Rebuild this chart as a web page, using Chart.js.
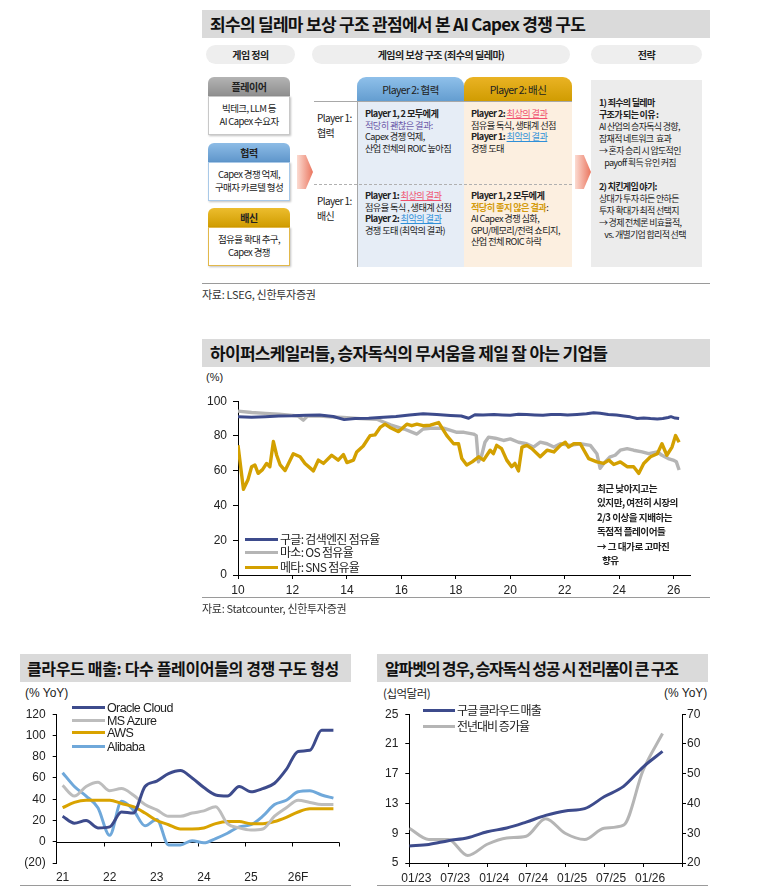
<!DOCTYPE html>
<html><head><meta charset="utf-8">
<script src="https://cdn.jsdelivr.net/npm/chart.js@4.4.1/dist/chart.umd.min.js"></script>
<style>
html,body{margin:0;padding:0;background:#fff;}
#page{position:relative;width:762px;height:888px;overflow:hidden;font-family:"Noto Sans CJK KR","Noto Sans",sans-serif;color:#222;}
.a{position:absolute;white-space:nowrap;}
.titlebar{position:absolute;background:#dadada;height:28px;}
.titlebar span{position:absolute;left:8px;top:0;line-height:28px;font-size:17px;font-weight:700;letter-spacing:-0.7px;color:#111;white-space:nowrap;}
.pill{position:absolute;height:19px;line-height:19px;background:#eeeeee;border-radius:10px;text-align:center;font-size:10px;font-weight:700;letter-spacing:-0.5px;color:#222;}
.box{position:absolute;width:82px;}
.box .hd{height:19px;line-height:19px;text-align:center;font-size:10px;font-weight:700;letter-spacing:-0.4px;border-radius:6px 6px 0 0;color:#222;}
.box .bd{background:#fff;text-align:center;font-size:9.5px;letter-spacing:-0.6px;line-height:13px;box-sizing:border-box;padding-top:5px;box-shadow:1px 1px 2px rgba(0,0,0,0.25);}
.cell{position:absolute;font-size:9.2px;letter-spacing:-0.6px;line-height:11.5px;color:#222;white-space:nowrap;}
.cell b{font-weight:700;}
.red{color:#f0506e;text-decoration:underline;}
.blu{color:#2f8fd8;text-decoration:underline;}
.src{position:absolute;font-size:11px;letter-spacing:-0.3px;color:#333;}
.sep{position:absolute;height:1px;background:#9a9a9a;}
.lg{position:absolute;font-size:12px;letter-spacing:-0.7px;color:#222;white-space:nowrap;line-height:13px;}
.lg i{display:inline-block;width:33px;height:3px;vertical-align:middle;margin-right:2px;position:relative;top:-1px;}
.lge{font-family:'Liberation Sans',Arial,sans-serif;font-size:12.5px;letter-spacing:-0.6px;}
canvas{position:absolute;}
</style></head>
<body><div id="page">

<!-- ===== Section 1: diagram ===== -->
<div class="titlebar" style="left:202px;top:10px;width:508px;"><span>죄수의 딜레마 보상 구조 관점에서 본 AI Capex 경쟁 구도</span></div>
<div class="pill" style="left:206px;top:45px;width:89px;">게임 정의</div>
<div class="pill" style="left:312px;top:45px;width:258px;">게임의 보상 구조 (죄수의 딜레마)</div>
<div class="pill" style="left:591px;top:45px;width:111px;">전략</div>

<div class="box" style="left:208px;top:77px;">
  <div class="hd" style="background:linear-gradient(#b4b4b4,#8e8e8e);">플레이어</div>
  <div class="bd" style="height:39px;border:1px solid #c8c8c8;">빅테크, LLM 등<br>AI Capex 수요자</div>
</div>
<div class="box" style="left:208px;top:143px;">
  <div class="hd" style="background:linear-gradient(#8dbce6,#5f96cb);">협력</div>
  <div class="bd" style="height:39px;border:1px solid #a9c9e8;">Capex 경쟁 억제,<br>구매자 카르텔 형성</div>
</div>
<div class="box" style="left:208px;top:208px;">
  <div class="hd" style="background:linear-gradient(#ecbd2e,#d09c00);">배신</div>
  <div class="bd" style="height:39px;border:1px solid #e2b84a;">점유율 확대 추구,<br>Capex 경쟁</div>
</div>

<div class="a" style="left:297px;top:155px;width:16px;height:34px;background:linear-gradient(90deg,#fbd7cc,#e8664d);clip-path:polygon(0 0,55% 0,100% 50%,55% 100%,0 100%,0 0);opacity:0.9;"></div>

<div class="a" style="left:357px;top:77px;width:107px;height:25px;border-radius:9px 9px 0 0;background:linear-gradient(#8fc0ea,#629ccf);text-align:center;line-height:25px;font-size:10.5px;letter-spacing:-0.6px;">Player 2: 협력</div>
<div class="a" style="left:464px;top:77px;width:108px;height:25px;border-radius:9px 9px 0 0;background:linear-gradient(#eab324,#cf9b00);text-align:center;line-height:25px;font-size:10.5px;letter-spacing:-0.6px;">Player 2: 배신</div>
<div class="a" style="left:357px;top:102px;width:107px;height:165px;background:#e6edf6;border-left:1px solid #a8a8a8;"></div>
<div class="a" style="left:464px;top:102px;width:108px;height:165px;background:#fcefe0;"></div>
<div class="a" style="left:314px;top:101px;width:258px;height:1px;background:#a8a8a8;"></div>
<div class="a" style="left:314px;top:184px;width:258px;height:0;border-top:1px dashed #b0b0b0;"></div>
<div class="cell" style="left:317px;top:110px;font-size:10px;line-height:15px;">Player 1:<br>협력</div>
<div class="cell" style="left:317px;top:193px;font-size:10px;line-height:15px;">Player 1:<br>배신</div>

<div class="cell" style="left:365px;top:108px;"><b>Player 1, 2 모두에게</b><br><span style="color:#6b58a8;">적당히 괜찮은 결과:</span><br>Capex 경쟁 억제,<br>산업 전체의 ROIC 높아짐</div>
<div class="cell" style="left:471px;top:108px;"><b>Player 2: </b><span class="red">최상의 결과</span><br>점유율 독식, 생태계 선점<br><b>Player 1: </b><span class="blu">최악의 결과</span><br>경쟁 도태</div>
<div class="cell" style="left:365px;top:190px;"><b>Player 1: </b><span class="red">최상의 결과</span><br>점유율 독식 , 생태계 선점<br><b>Player 2: </b><span class="blu">최악의 결과</span><br>경쟁 도태 (최악의 결과)</div>
<div class="cell" style="left:471px;top:190px;"><b>Player 1, 2 모두에게</b><br><span style="color:#d49c10;font-weight:700;">적당히 좋지 않은 결과</span>:<br>AI Capex 경쟁 심화,<br>GPU/메모리/전력 쇼티지,<br>산업 전체 ROIC 하락</div>

<div class="a" style="left:575px;top:155px;width:16px;height:34px;background:linear-gradient(90deg,#fbd7cc,#e8664d);clip-path:polygon(0 0,55% 0,100% 50%,55% 100%,0 100%,0 0);opacity:0.9;"></div>
<div class="a" style="left:591px;top:80px;width:111px;height:187px;background:#ececec;"></div>
<div class="cell" style="left:599px;top:97px;font-size:9px;line-height:12px;letter-spacing:-0.7px;"><b>1) 죄수의 딜레마<br>구조가 되는 이유 :</b><br>AI 산업의 승자독식 경향,<br>잠재적 네트워크&nbsp; 효과<br>→ 혼자 승리 시 압도적인<br>&nbsp;&nbsp;&nbsp;&nbsp;payoff 획득 유인 커짐<br><br><b>2) 치킨게임 야기:</b><br>상대가 투자 하든 안하든<br>투자 확대가 최적 선택지<br>→ 경제 전체론 비효율적,<br>&nbsp;&nbsp;&nbsp;&nbsp;vs. 개별기업 합리적 선택</div>

<div class="sep" style="left:202px;top:283px;width:508px;"></div>
<div class="src" style="left:202px;top:286px;">자료: LSEG, 신한투자증권</div>

<!-- ===== Section 2 ===== -->
<div class="titlebar" style="left:202px;top:339px;width:508px;"><span>하이퍼스케일러들, 승자독식의 무서움을 제일 잘 아는 기업들</span></div>
<div class="a" style="left:206px;top:371px;font-size:11px;font-family:'Liberation Sans',Arial,sans-serif;">(%)</div>
<canvas id="c1" width="500" height="209" style="left:196px;top:388px;"></canvas>
<div class="lg" style="left:245px;top:532px;"><i style="background:#3d4b8c"></i>구글: 검색엔진 점유율</div>
<div class="lg" style="left:245px;top:545px;"><i style="background:#b5b5b5"></i>마소: OS 점유율</div>
<div class="lg" style="left:245px;top:560px;"><i style="background:#d3a000"></i>메타: SNS 점유율</div>
<div class="a" style="left:597px;top:481px;font-size:9.6px;font-weight:700;letter-spacing:-0.5px;line-height:14.4px;color:#222;">최근 낮아지고는<br>있지만, 여전히 시장의<br>2/3 이상을 지배하는<br>독점적 플레이어들<br>→ 그 대가로 고마진<br>&nbsp;&nbsp;&nbsp;향유</div>
<div class="sep" style="left:202px;top:597px;width:508px;"></div>
<div class="src" style="left:202px;top:600px;">자료: Statcounter, 신한투자증권</div>

<!-- ===== Section 3 left ===== -->
<div class="titlebar" style="left:20px;top:654px;width:331px;"><span style="left:7px;font-size:16px;letter-spacing:-0.35px;">클라우드 매출: 다수 플레이어들의 경쟁 구도 형성</span></div>
<div class="a" style="left:25px;top:686px;font-size:12px;font-family:'Liberation Sans',Arial,sans-serif;">(% YoY)</div>
<canvas id="c2" width="340" height="187" style="left:10px;top:700px;"></canvas>
<div class="lg lge" style="left:72px;top:702px;"><i style="background:#3d4b8c"></i>Oracle Cloud</div>
<div class="lg lge" style="left:72px;top:715px;"><i style="background:#bdbdbd"></i>MS Azure</div>
<div class="lg lge" style="left:72px;top:727px;"><i style="background:#d9a300"></i>AWS</div>
<div class="lg lge" style="left:72px;top:741px;"><i style="background:#6fa8da"></i>Alibaba</div>
<div class="sep" style="left:20px;top:885px;width:331px;"></div>

<!-- ===== Section 3 right ===== -->
<div class="titlebar" style="left:377px;top:654px;width:331px;"><span style="left:8px;font-size:16px;letter-spacing:-1.15px;">알파벳의 경우, 승자독식 성공 시 전리품이 큰 구조</span></div>
<div class="a" style="left:383px;top:685px;font-size:11.5px;letter-spacing:-0.5px;">(십억달러)</div>
<div class="a" style="left:664px;top:686px;font-size:12px;font-family:'Liberation Sans',Arial,sans-serif;">(% YoY)</div>
<canvas id="c3" width="342" height="187" style="left:370px;top:700px;"></canvas>
<div class="lg" style="left:423px;top:703px;letter-spacing:-1px;"><i style="background:#3d4b8c;width:32px;"></i>구글 클라우드 매출</div>
<div class="lg" style="left:423px;top:719px;letter-spacing:-1px;"><i style="background:#b5b5b5;width:32px;"></i>전년대비 증가율</div>
<div class="sep" style="left:377px;top:885px;width:331px;"></div>

</div>
<script>
// ---------- Data: search / OS / SNS market share (%) ----------
const googleYears = [10.0,10.5,11.0,11.5,12.0,12.5,13.0,13.5,13.9,14.3,14.8,15.2,15.8,16.3,16.8,17.3,17.8,18.2,18.47,18.7,19.0,19.4,19.7,20.0,20.3,20.6,20.9,21.2,21.5,21.84,22.1,22.45,22.8,23.06,23.3,23.6,23.9,24.17,24.4,24.66,24.9,25.15,25.4,25.6,25.8,25.9,26.05,26.2];
const googleShare = [91.0,90.7,91.1,91.5,91.6,91.9,92.0,91.2,89.4,90.0,90.2,90.6,91.2,92.0,92.8,92.3,91.8,91.5,90.2,92.2,92.0,92.4,92.1,91.9,92.5,92.4,92.1,91.9,92.3,92.4,92.1,92.4,92.8,93.4,93.0,92.4,92.0,91.5,91.0,90.0,90.3,90.0,89.8,90.0,90.6,91.1,90.3,90.0];
const msYears = [10.0,10.5,11.0,11.5,11.9,12.2,12.4,12.55,13.0,13.4,13.87,14.5,15.1,15.6,16.1,16.57,16.8,17.06,17.55,18.04,18.3,18.65,18.75,18.83,18.95,19.07,19.2,19.45,19.75,20.0,20.3,20.6,20.85,21.1,21.35,21.6,21.84,22.2,22.57,22.94,23.18,23.3,23.43,23.67,23.85,24.04,24.29,24.53,24.84,25.08,25.4,25.57,25.8,25.98,26.1,26.2];
const msShare = [94.3,93.5,93.0,92.5,92.0,91.5,89.1,91.5,91.5,91.0,90.6,90.0,89.6,86.4,84.0,81.1,84.0,84.4,84.5,82.1,82.1,81.1,80.2,65.1,68.9,76.4,79.3,78.7,77.4,78.3,76.4,75.5,73.6,76.4,75.5,73.6,75.5,74.6,75.5,74.6,69.8,61.4,64.2,68.0,68.9,71.8,72.7,71.8,70.8,69.8,70.8,68.9,67.0,66.1,65.1,60.4];
const metaYears = [10.0,10.2,10.37,10.5,10.62,10.74,10.9,11.05,11.17,11.3,11.42,11.55,11.73,12.03,12.28,12.46,12.77,12.95,13.14,13.44,13.68,13.87,14.0,14.24,14.36,14.6,14.85,15.03,15.22,15.4,15.58,15.9,16.2,16.38,16.57,16.8,17.06,17.37,17.67,17.92,18.1,18.22,18.4,18.6,18.84,19.02,19.26,19.38,19.5,19.68,19.87,20.05,20.17,20.3,20.43,20.61,20.79,21.1,21.35,21.6,21.84,22.02,22.14,22.33,22.57,22.88,23.18,23.43,23.62,23.8,24.04,24.29,24.53,24.72,24.9,25.15,25.4,25.57,25.75,25.94,26.07,26.2];
const metaShare = [74.7,49.3,55.0,62.3,63.3,58.5,60.6,64.2,62.3,76.8,68.9,63.3,60.1,69.8,68.0,64.2,59.9,66.1,64.2,68.9,66.1,69.3,64.7,66.1,70.8,74.2,80.2,80.6,84.9,86.8,84.9,82.5,86.8,85.9,86.8,85.9,86.2,87.7,80.2,75.5,75.5,67.0,63.3,65.1,68.0,66.1,71.8,69.8,74.6,72.7,66.1,62.3,64.2,59.9,73.6,74.6,72.7,68.0,71.8,70.8,74.6,76.4,73.6,75.5,75.5,67.0,65.1,64.2,66.1,63.6,65.1,62.3,62.3,58.5,64.2,68.0,69.8,75.5,68.9,73.6,80.2,76.4];

// ---------- Data: cloud revenue growth (% YoY), 21Q1..26Q4 ----------
const cloudQuarters = ['21Q1','21Q2','21Q3','21Q4','22Q1','22Q2','22Q3','22Q4','23Q1','23Q2','23Q3','23Q4','24Q1','24Q2','24Q3','24Q4','25Q1','25Q2','25Q3','25Q4','26Q1','26Q2','26Q3','26Q4'];
const cloudYearLabels = ['21','22','23','24','25','26F'];
const oracleGrowth  = [24,17.5,20,13,14,28,27,52,57,64,67,60,51,44,43,52,47,50,55,68,85,86,105,105];
const azureGrowth   = [53,43,52,56,48,50,44,35,30,24,24,27,29,33,17,13,11,12,24,32,39,37,35,35];
const awsGrowth     = [32,37,39,39,39,36,33,27,20,16,12,12,13,17,19,19,17,17,19,23,28,31,31,31];
const alibabaGrowth = [65,52,43,32,6,38,30,15,21,-3,-3,1,-1,3,8,14,16,24,35,39,47,48,44,41];

// ---------- Data: Google Cloud revenue ($bn) and YoY (%) ----------
const gcMonths   = [0,3,6,9,12,15,18,21,24,27,30,33,36,39];
const gcRevenue  = [7.3,7.5,8.0,8.4,9.2,9.7,10.5,11.4,12.0,12.3,13.9,15.3,17.9,20.0];
const gcYoY      = [31.7,27.9,27.9,22.5,26.3,28.4,29.0,34.9,30.0,27.9,31.7,32.7,51.1,63.5];
const gcTickLabels = ['01/23','07/23','01/24','07/24','01/25','07/25','01/26'];

// ---------- Common ----------
const NUM_FONT = "'Liberation Sans', Arial, sans-serif";
Chart.defaults.font.family = NUM_FONT;
Chart.defaults.font.size = 12;
Chart.defaults.color = '#222';
Chart.defaults.animation = false;
Chart.defaults.responsive = false;
Chart.defaults.devicePixelRatio = 1;
const NAVY = '#3d4b8c', GRAY = '#b5b5b5', GOLD = '#d3a000';
const pts = (xs, ys) => xs.map((x, i) => ({x, y: ys[i]}));
const axisGrid = (len) => ({display: true, drawOnChartArea: false, drawTicks: true, tickLength: len, color: '#000'});
const axisBorder = {display: true, color: '#000', width: 1};

// ---------- Chart 1 ----------
new Chart(document.getElementById('c1'), {
  type: 'line',
  data: {datasets: [
    {label: '메타: SNS 점유율', data: pts(metaYears, metaShare), borderColor: GOLD, borderWidth: 3.4, order: 0},
    {label: '구글: 검색엔진 점유율', data: pts(googleYears, googleShare), borderColor: NAVY, borderWidth: 3, order: 1},
    {label: '마소: OS 점유율', data: pts(msYears, msShare), borderColor: GRAY, borderWidth: 3.4, order: 2}
  ]},
  options: {
    layout: {padding: {top: 10, right: 6, left: 0, bottom: 0}},
    elements: {point: {radius: 0}, line: {tension: 0, borderJoinStyle: 'round'}},
    plugins: {legend: {display: false}, tooltip: {enabled: false}},
    scales: {
      x: {type: 'linear', min: 10, max: 26.6,
          ticks: {stepSize: 2, includeBounds: false, padding: 4, font: {size: 12}},
          grid: axisGrid(4), border: axisBorder,
          afterFit: s => { s.height = 22; }},
      y: {min: 0, max: 100, ticks: {stepSize: 20, padding: 6, font: {size: 12}},
          grid: axisGrid(5), border: axisBorder,
          afterFit: s => { s.width = 42; }}
    }
  }
});

// ---------- Chart 2 ----------
const zeroAxis = {
  id: 'zeroAxis',
  beforeDatasetsDraw(chart) {
    const {ctx, chartArea, scales: {x, y}} = chart;
    const y0 = Math.round(y.getPixelForValue(0)) + 0.5;
    const half = (x.getPixelForValue(1) - x.getPixelForValue(0)) / 2;
    ctx.save();
    ctx.strokeStyle = '#000'; ctx.lineWidth = 1;
    ctx.beginPath();
    ctx.moveTo(chartArea.left, y0); ctx.lineTo(chartArea.right, y0);
    for (let i = 4; i <= cloudQuarters.length; i += 4) {
      const px = Math.round(x.getPixelForValue(i) - half) + 0.5;
      ctx.moveTo(px, y0); ctx.lineTo(px, y0 + 4);
    }
    ctx.stroke();
    ctx.restore();
  }
};
new Chart(document.getElementById('c2'), {
  type: 'line',
  data: {labels: cloudQuarters, datasets: [
    {label: 'Oracle Cloud', data: oracleGrowth, borderColor: NAVY},
    {label: 'MS Azure', data: azureGrowth, borderColor: '#bdbdbd'},
    {label: 'AWS', data: awsGrowth, borderColor: '#d9a300'},
    {label: 'Alibaba', data: alibabaGrowth, borderColor: '#6fa8da'}
  ]},
  options: {
    layout: {padding: {top: 9, right: 10.7, left: 0, bottom: 0}},
    elements: {point: {radius: 0}, line: {tension: 0.4, borderWidth: 3, cubicInterpolationMode: 'monotone'}},
    plugins: {legend: {display: false}, tooltip: {enabled: false}},
    scales: {
      x: {type: 'category', offset: true,
          ticks: {autoSkip: false, maxRotation: 0, padding: 7, font: {size: 12},
                  callback: (v, i) => (i % 4 === 0 ? cloudYearLabels[i / 4] : '')},
          grid: {display: false, drawTicks: false}, border: {display: false},
          afterFit: s => { s.height = 24; }},
      y: {min: -20, max: 120,
          ticks: {stepSize: 20, padding: 7, font: {size: 12},
                  callback: v => (v < 0 ? '(' + Math.abs(v) + ')' : v)},
          grid: axisGrid(4), border: axisBorder,
          afterFit: s => { s.width = 46.7; }}
    }
  },
  plugins: [zeroAxis]
});

// ---------- Chart 3 ----------
new Chart(document.getElementById('c3'), {
  type: 'line',
  data: {datasets: [
    {label: '구글 클라우드 매출', data: pts(gcMonths, gcRevenue), borderColor: NAVY, yAxisID: 'y', order: 0},
    {label: '전년대비 증가율', data: pts(gcMonths, gcYoY), borderColor: GRAY, yAxisID: 'y2', order: 1}
  ]},
  options: {
    layout: {padding: {top: 8.3, right: 0, left: 0, bottom: 0}},
    elements: {point: {radius: 0}, line: {tension: 0.4, borderWidth: 3, cubicInterpolationMode: 'monotone'}},
    plugins: {legend: {display: false}, tooltip: {enabled: false}},
    scales: {
      x: {type: 'linear', min: 0, max: 42,
          ticks: {stepSize: 6, padding: 4, labelOffset: 7, maxRotation: 0, font: {size: 12},
                  callback: (v) => (gcTickLabels[v / 6] || '')},
          grid: axisGrid(4), border: axisBorder,
          afterFit: s => { s.height = 24; }},
      y: {position: 'left', min: 5, max: 25,
          ticks: {stepSize: 4, padding: 7, font: {size: 12}},
          grid: axisGrid(4), border: axisBorder,
          afterFit: s => { s.width = 39.3; }},
      y2: {position: 'right', min: 20, max: 70,
          ticks: {stepSize: 10, padding: 1, font: {size: 12}},
          grid: axisGrid(4), border: axisBorder,
          afterFit: s => { s.width = 30; }}
    }
  }
});
</script>
</body></html>
